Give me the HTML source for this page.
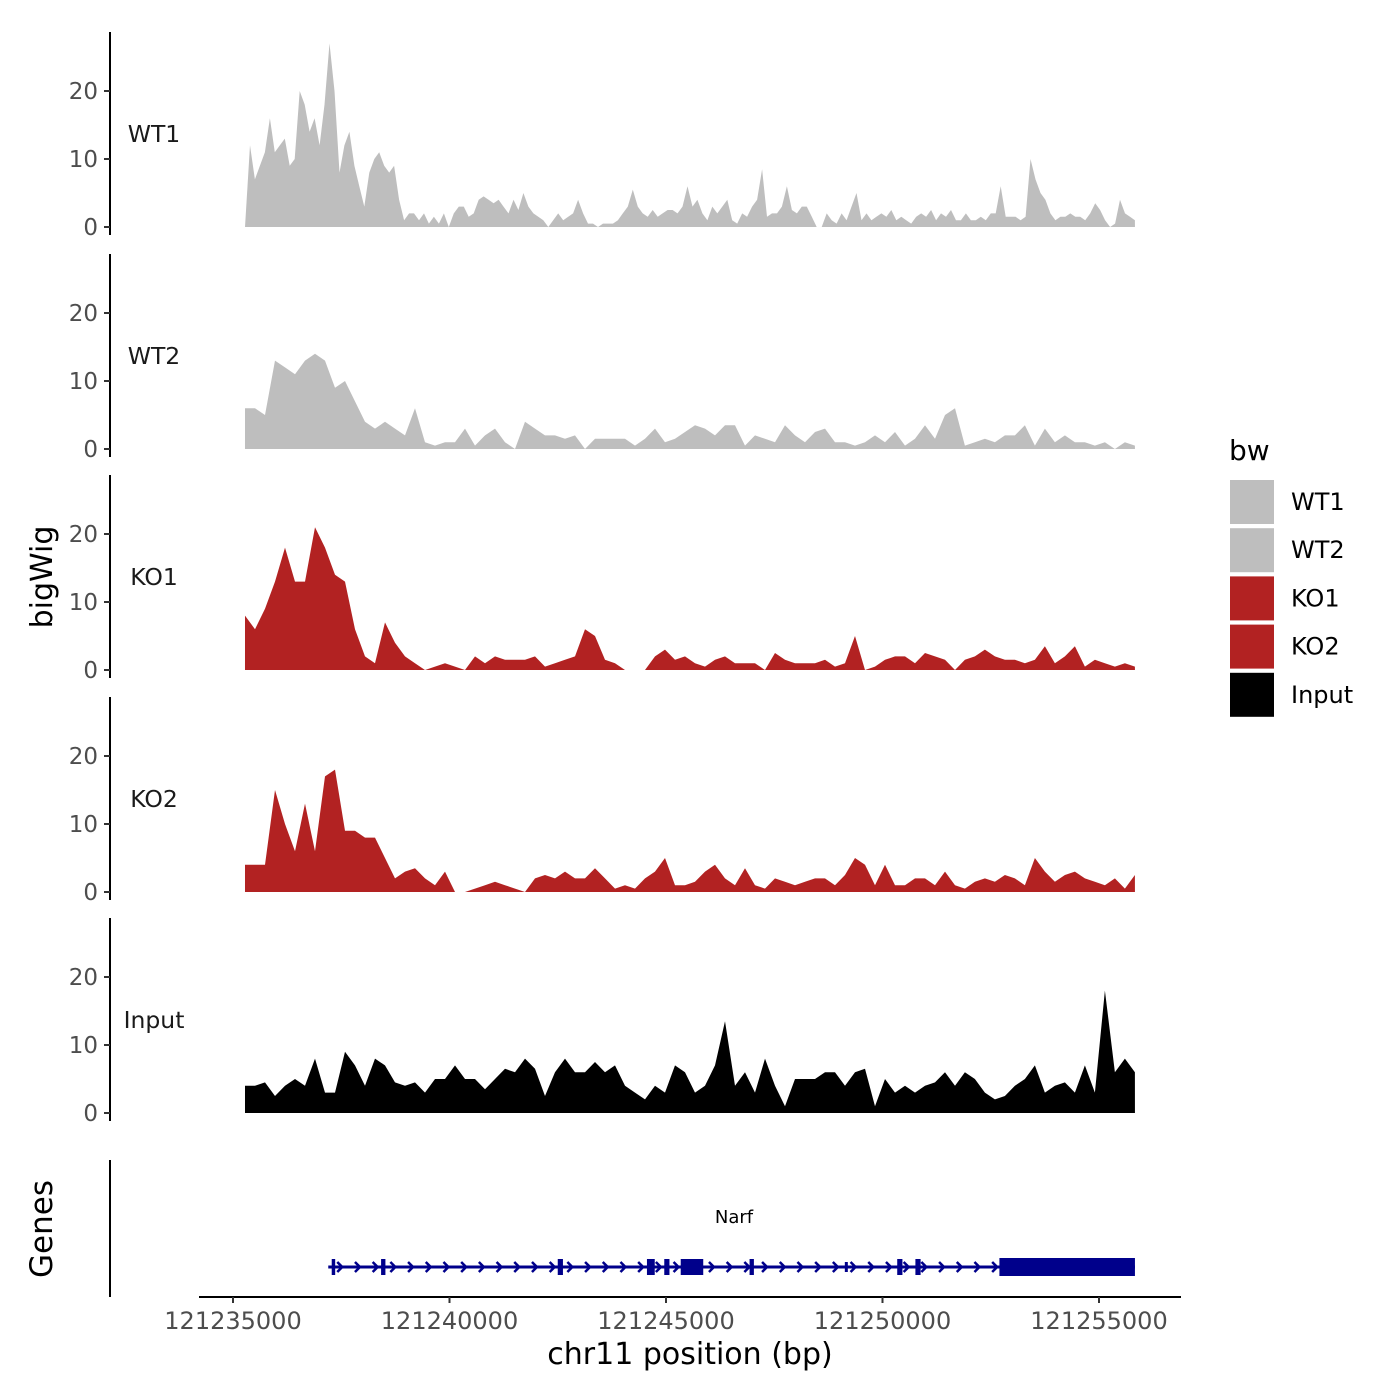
<!DOCTYPE html>
<html><head><meta charset="utf-8">
<style>
html,body{margin:0;padding:0;background:#fff;}
svg{display:block;font-family:"DejaVu Sans","Liberation Sans",sans-serif;}
</style></head>
<body>
<svg id="chart" width="1400" height="1400" viewBox="0 0 1400 1400" xmlns="http://www.w3.org/2000/svg">
<rect width="1400" height="1400" fill="#fff"/>
<g id="tracks"></g>
<g id="genes"></g>
<g id="xaxis"></g>
<text x="0" y="0" transform="translate(52,577) rotate(-90)" text-anchor="middle" font-size="30" fill="#000">bigWig</text>
<text x="0" y="0" transform="translate(52,1229) rotate(-90)" text-anchor="middle" font-size="31" fill="#000">Genes</text>
<text x="690" y="1364" text-anchor="middle" font-size="30" fill="#000">chr11 position (bp)</text>
<g id="legend">
<text x="1229" y="460" font-size="28" fill="#000">bw</text>
</g>
</svg>
<script>
const trackNames = ["WT1","WT2","KO1","KO2","Input"];
const trackColors = ["#BEBEBE","#BEBEBE","#B22222","#B22222","#000000"];
const yTicks = [0,10,20];
const xTickLabels = [121235000,121240000,121245000,121250000,121255000];
const dataStartBp = 121235277;
const dataEndBp = 121255830;
const wt1 = [0,12,7,9,11,16,11,12,13,9,10,20,18,14,16,12,18,27,20,8,12,14,9,6,3,8,10,11,9,8,9,4,1,2,2,1,2,0.5,1.5,0.5,2,0,2,3,3,1.5,2,4,4.5,4,3.5,4,3,2,4,2.5,5,3,2,1.5,1,0,1,2,1,1.5,2,4,2,0.5,0.5,0,0.5,0.5,0.5,1,2,3,5.5,3,2,1.5,2.5,1.5,2,2.5,2.5,2,3,6,3,4,2,1,3,2,3,4,1,0.5,2,1.5,3,4,8.5,1.5,2,2,3,6,2.5,2,3,3,1.5,0,0,2,1,0.5,2,1,3,5,1,2,1,1.5,2,1.5,2.5,1,1.5,1,0.5,1.5,2,1.5,2.5,1,2,1.5,2.5,1,1,2,1,1,1.5,1,2,2,6,1.5,1.5,1.5,1,1.5,10,7,5,4,2,1,1.5,1.5,2,1.5,1.5,1,2,3.5,2.5,1,0,0.5,4,2,1.5,1];
const wt2 = [6,6,5,13,12,11,13,14,13,9,10,7,4,3,4,3,2,6,1,0.5,1,1,3,0.5,2,3,1,0,4,3,2,2,1.5,2,0,1.5,1.5,1.5,1.5,0.5,1.5,3,1,1.5,2.5,3.5,3,2,3.5,3.5,0.5,2,1.5,1,3.5,2,1,2.5,3,1,1,0.5,1,2,1,2.5,0.5,1.5,3.5,1.5,5,6,0.5,1,1.5,1,2,2,3.5,0.5,3,1,2,1,1,0.5,1,0,1,0.5];
const ko1 = [8,6,9,13,18,13,13,21,18,14,13,6,2,1,7,4,2,1,0,0.5,1,0.5,0,2,1,2,1.5,1.5,1.5,2,0.5,1,1.5,2,6,5,1.5,1,0,0,0,2,3,1.5,2,1,0.5,1.5,2,1,1,1,0,2.5,1.5,1,1,1,1.5,0.5,1,5,0,0.5,1.5,2,2,1,2.5,2,1.5,0,1.5,2,3,2,1.5,1.5,1,1.5,3.5,1,2,3.5,0.5,1.5,1,0.5,1,0.5];
const ko2 = [4,4,4,15,10,6,13,6,17,18,9,9,8,8,5,2,3,3.5,2,1,3,0,0,0.5,1,1.5,1,0.5,0,2,2.5,2,3,2,2,3.5,2,0.5,1,0.5,2,3,5,1,1,1.5,3,4,2,1,3.5,1,0.5,2,1.5,1,1.5,2,2,1,2.5,5,4,1,4,1,1,2,2,1,3,1,0.5,1.5,2,1.5,2.5,2,1,5,3,1.5,2.5,3,2,1.5,1,2,0.5,2.5];
const inputVals = [4,4,4.5,2.5,4,5,4,8,3,3,9,7,4,8,7,4.5,4,4.5,3,5,5,7,5,5,3.5,5,6.5,6,8,6.5,2.5,6,8,6,6,7.5,6,7,4,3,2,4,3,7,6,3,4,7,13.5,4,6,3,8,4,1,5,5,5,6,6,4,6,6.5,1,5,3,4,3,4,4.5,6,4,6,5,3,2,2.5,4,5,7,3,4,4.5,3,7,3,18,6,8,6];
const trackValues = [wt1,wt2,ko1,ko2,inputVals];
const geneName = "Narf";
const geneStartBp = 121237200;
const geneEndBp = 121255830;
const exonStarts = [121237280,121238420,121242500,121244560,121244960,121245340,121246930,121249130,121250340,121250760,121252700];
const exonEnds   = [121237360,121238520,121242620,121244740,121245080,121245860,121247030,121249180,121250460,121250880,121255830];
const exonHeights = [16,16,16,16,16,16,16,10,16,16,18];

const NS="http://www.w3.org/2000/svg";
function el(tag, attrs, parent){const e=document.createElementNS(NS,tag);for(const k in attrs)e.setAttribute(k,attrs[k]);parent.appendChild(e);return e;}
const xScale = bp => 233 + (bp-121235000)*(1099-233)/20000;
const panelZero = [227,449,670,892,1113];
const pxPerUnit = 6.8;

const tracksG=document.getElementById('tracks');
trackNames.forEach((name,t)=>{
  const y0=panelZero[t];
  const yScale=v=>y0-v*pxPerUnit;
  const g=el('g',{},tracksG);
  
  
  const ax=el('line',{x1:110,x2:110,y1:y0-195,y2:y0+8,stroke:'#000','stroke-width':2},g);
  
  
  yTicks.forEach(v=>{
    const tk=el('line',{x1:104,x2:110,y1:yScale(v),y2:yScale(v),stroke:'#333','stroke-width':2},g);
    
    
    const tl=el('text',{x:98,y:yScale(v)+8,'text-anchor':'end','font-size':23,fill:'#4d4d4d'},g);
    
    
    tl.textContent=v;
  });
  const lab=el('text',{x:154,y:y0-85,'text-anchor':'middle','font-size':23.5,fill:'#1a1a1a'},g);
  
  
  lab.textContent=name;
  const vals=trackValues[t];
  const n=vals.length;
  let d='M'+xScale(dataStartBp)+','+y0;
  vals.forEach((v,i)=>{const bp=dataStartBp+i*(dataEndBp-dataStartBp)/(n-1);d+=' L'+xScale(bp).toFixed(1)+','+yScale(v).toFixed(1);});
  d+=' L'+xScale(dataEndBp)+','+y0+' Z';
  const area=el('path',{d:d,fill:trackColors[t]},g);
  
  
});

// genes
const gg=document.getElementById('genes');
const gax=el('line',{x1:110,x2:110,y1:1160,y2:1297,stroke:'#000','stroke-width':2},gg);


const gy=1267, gc='#00008B';
const gline=el('line',{x1:xScale(geneStartBp),x2:xScale(geneEndBp),y1:gy,y2:gy,stroke:gc,'stroke-width':3},gg);


for(let x=xScale(geneStartBp)+12;x<xScale(geneEndBp)-10;x+=17.7){
  const ch=el('polyline',{points:(x-3)+','+(gy-5)+' '+(x+2)+','+gy+' '+(x-3)+','+(gy+5),fill:'none',stroke:gc,'stroke-width':2.5},gg);
  
  
}
exonStarts.forEach((s,i)=>{
  const x1=xScale(s),x2=xScale(exonEnds[i]),h=exonHeights[i];
  const r=el('rect',{x:x1,y:gy-h/2,width:Math.max(3,x2-x1),height:h,fill:gc},gg);
  
  
});
const gn=el('text',{x:734,y:1223,'text-anchor':'middle','font-size':18,fill:'#000'},gg);


gn.textContent=geneName;

// x axis
const xg=document.getElementById('xaxis');
const xl=el('line',{x1:199,x2:1181,y1:1297,y2:1297,stroke:'#000','stroke-width':2},xg);


xTickLabels.forEach(v=>{
  const x=xScale(v);
  const tk=el('line',{x1:x,x2:x,y1:1297,y2:1303,stroke:'#333','stroke-width':2},xg);
  
  
  const tl=el('text',{x:x,y:1329,'text-anchor':'middle','font-size':24,fill:'#4d4d4d'},xg);
  
  
  tl.textContent=v;
});

// legend
const lg=document.getElementById('legend');
trackNames.forEach((name,i)=>{
  const y=480+i*48.2;
  const r=el('rect',{x:1230,y:y,width:44,height:44,fill:trackColors[i]},lg);
  
  
  const t=el('text',{x:1291,y:y+30,'font-size':24,fill:'#000'},lg);
  
  
  t.textContent=name;
});
</script>
</body></html>
